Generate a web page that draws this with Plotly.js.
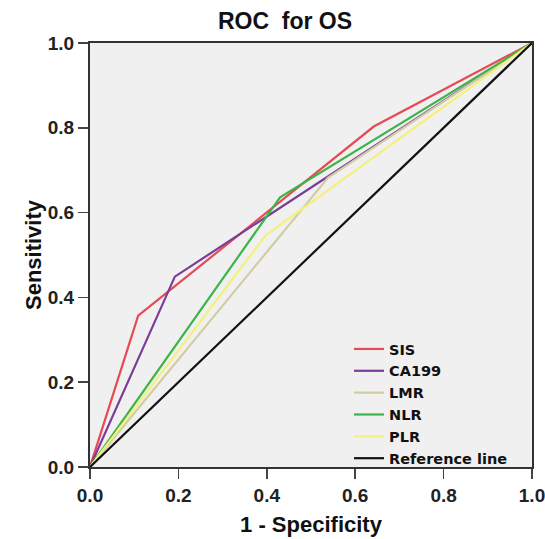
<!DOCTYPE html>
<html>
<head>
<meta charset="utf-8">
<script src="https://cdn.plot.ly/plotly-3.0.1.min.js"></script>
<style>html,body{margin:0;padding:0;background:#fff;}#chart{width:545px;height:539px;}</style>
</head>
<body>
<div id="chart"></div>
<script>
// ROC curve points
const seriesNames = ["SIS", "CA199", "LMR", "NLR", "PLR", "Reference line"];
const sisX = [0, 0.109, 0.642, 1];
const sisY = [0, 0.357, 0.803, 1];
const ca199X = [0, 0.192, 1];
const ca199Y = [0, 0.449, 1];
const lmrX = [0, 0.538, 1];
const lmrY = [0, 0.682, 1];
const nlrX = [0, 0.430, 1];
const nlrY = [0, 0.636, 1];
const plrX = [0, 0.398, 1];
const plrY = [0, 0.547, 1];
const refX = [0, 1];
const refY = [0, 1];
const tickVals = [0, 0.2, 0.4, 0.6, 0.8, 1.0];
const tickText = ["0.0", "0.2", "0.4", "0.6", "0.8", "1.0"];

const colors = ["#e64b55", "#7d3c98", "#d2cca3", "#3cb44a", "#f4f07c", "#111111"];
const xs = [sisX, ca199X, lmrX, nlrX, plrX, refX];
const ys = [sisY, ca199Y, lmrY, nlrY, plrY, refY];

const FONT = "Liberation Sans, Arial, sans-serif";
const traces = seriesNames.map((n, i) => ({
  type: "scatter", mode: "lines", name: n, x: xs[i], y: ys[i],
  line: {color: colors[i], width: 2.2},
  hoverinfo: "skip"
}));

const axisCommon = {
  range: [0, 1], tickmode: "array", tickvals: tickVals, ticktext: tickText,
  ticks: "outside", ticklen: 10, tickwidth: 1.5, tickcolor: "#444",
  showline: true, linecolor: "#333", linewidth: 2, mirror: true,
  showgrid: false, zeroline: false, fixedrange: true,
  ticklabeloverflow: "allow",
  tickfont: {family: FONT, size: 19, color: "#222", weight: "bold"}
};

const layout = {
  width: 545, height: 539,
  margin: {l: 90, r: 13, t: 43, b: 72},
  paper_bgcolor: "#ffffff", plot_bgcolor: "#f0f0f0",
  title: {text: "<b>ROC  for OS</b>", x: 285/545, xref: "container", xanchor: "center",
          y: 1 - 21/539, yref: "container", yanchor: "middle",
          font: {family: FONT, size: 23, color: "#111"}},
  xaxis: Object.assign({}, axisCommon, {
    title: {text: "<b>1 - Specificity</b>", standoff: 12, font: {family: FONT, size: 22, color: "#111"}}
  }),
  yaxis: Object.assign({}, axisCommon, {
    title: {text: "<b>Sensitivity</b>", standoff: 0, font: {family: FONT, size: 22, color: "#111"}}
  }),
  showlegend: true,
  legend: {x: 0.586, y: 0.316, xanchor: "left", yanchor: "top", bgcolor: "rgba(0,0,0,0)",
           font: {family: "DejaVu Sans, sans-serif", size: 14.5, color: "#111", weight: "bold"}, tracegroupgap: 0}
};

Plotly.newPlot("chart", traces, layout, {displayModeBar: false, staticPlot: true});
</script>
</body>
</html>
